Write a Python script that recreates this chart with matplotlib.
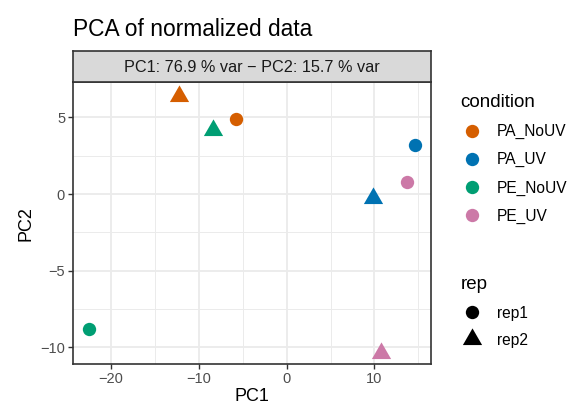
import matplotlib.pyplot as plt
from matplotlib.lines import Line2D
from matplotlib.ticker import MultipleLocator

plt.rcParams['font.family'] = ['Liberation Sans', 'DejaVu Sans']

# PCA scores for each sample
samples = ['PA_NoUV_1', 'PA_NoUV_2', 'PA_UV_1', 'PA_UV_2',
           'PE_NoUV_1', 'PE_NoUV_2', 'PE_UV_1', 'PE_UV_2']
condition = ['PA_NoUV', 'PA_NoUV', 'PA_UV', 'PA_UV',
             'PE_NoUV', 'PE_NoUV', 'PE_UV', 'PE_UV']
rep = ['rep1', 'rep2', 'rep1', 'rep2', 'rep1', 'rep2', 'rep1', 'rep2']
pc1 = [-5.77, -12.23, 14.65, 9.87, -22.48, -8.36, 13.74, 10.71]
pc2 = [4.87, 6.39, 3.22, -0.29, -8.83, 4.17, 0.76, -10.35]

pct_var = [76.9, 15.7]
cond_levels = ['PA_NoUV', 'PA_UV', 'PE_NoUV', 'PE_UV']
cond_colors = ['#D55E00', '#0072B2', '#009E73', '#CC79A7']
rep_levels = ['rep1', 'rep2']

# equilateral triangle centred on its centroid (like R pch 17)
tri = [(0, 0.577), (-0.5, -0.289), (0.5, -0.289)]
rep_markers = {'rep1': 'o', 'rep2': tri}
rep_sizes = {'rep1': 9.6, 'rep2': 16}
col_of = dict(zip(cond_levels, cond_colors))

fig = plt.figure(figsize=(5.74, 4.09), dpi=100)
ax = fig.add_axes([0.1267, 0.110, 0.6236, 0.6888])

for x, y, c, r in zip(pc1, pc2, condition, rep):
    ax.plot(x, y, marker=rep_markers[r], ms=rep_sizes[r], color=col_of[c],
            mec='none', ls='none', zorder=3)

ax.set_xlim(-24.37, 16.4)
ax.set_ylim(-11.09, 7.29)
ax.xaxis.set_major_locator(MultipleLocator(10))
ax.xaxis.set_minor_locator(MultipleLocator(5))
ax.yaxis.set_major_locator(MultipleLocator(5))
ax.yaxis.set_minor_locator(MultipleLocator(2.5))
ax.grid(which='major', color='#EBEBEB', lw=1.3)
ax.grid(which='minor', color='#EBEBEB', lw=0.7)
ax.set_axisbelow(True)
for s in ax.spines.values():
    s.set_color('#333333')
    s.set_linewidth(1.2)
ax.tick_params(which='major', length=3.5, width=1.0, color='#333333',
               labelcolor='#4D4D4D', labelsize=10.5, pad=2)
ax.tick_params(which='minor', length=0)
ax.set_xlabel('PC1', fontsize=13, labelpad=2)
ax.set_ylabel('PC2', fontsize=13, labelpad=4)

# facet-style strip above the panel
strip = fig.add_axes([0.1267, 0.7988, 0.6236, 0.0772])
strip.set_facecolor('#D9D9D9')
strip.set_xticks([])
strip.set_yticks([])
for s in strip.spines.values():
    s.set_color('#333333')
    s.set_linewidth(1.2)
strip.text(0.5, 0.48, f'PC1: {pct_var[0]} % var \u2212 PC2: {pct_var[1]} % var',
           ha='center', va='center', fontsize=11.7, color='#1A1A1A')

fig.text(0.127, 0.912, 'PCA of normalized data', fontsize=16.4, color='black')

cond_handles = [Line2D([], [], marker='o', ms=9.6, color=c, mec='none', ls='none')
                for c in cond_colors]
leg1 = fig.legend(cond_handles, cond_levels, title='condition', loc='upper left',
                  bbox_to_anchor=(0.789, 0.789), frameon=False, fontsize=11.2,
                  title_fontsize=13.5, alignment='left', borderpad=0,
                  labelspacing=0.84, handletextpad=0.95, handlelength=1.4)

rep_handles = [Line2D([], [], marker=rep_markers[r], ms=rep_sizes[r], color='black',
                      mec='none', ls='none') for r in rep_levels]
leg2 = fig.legend(rep_handles, rep_levels, title='rep', loc='upper left',
                  bbox_to_anchor=(0.789, 0.343), frameon=False, fontsize=11.2,
                  title_fontsize=13.5, alignment='left', borderpad=0,
                  labelspacing=0.78, handletextpad=0.95, handlelength=1.4)

fig.savefig('out.png', dpi=100)
